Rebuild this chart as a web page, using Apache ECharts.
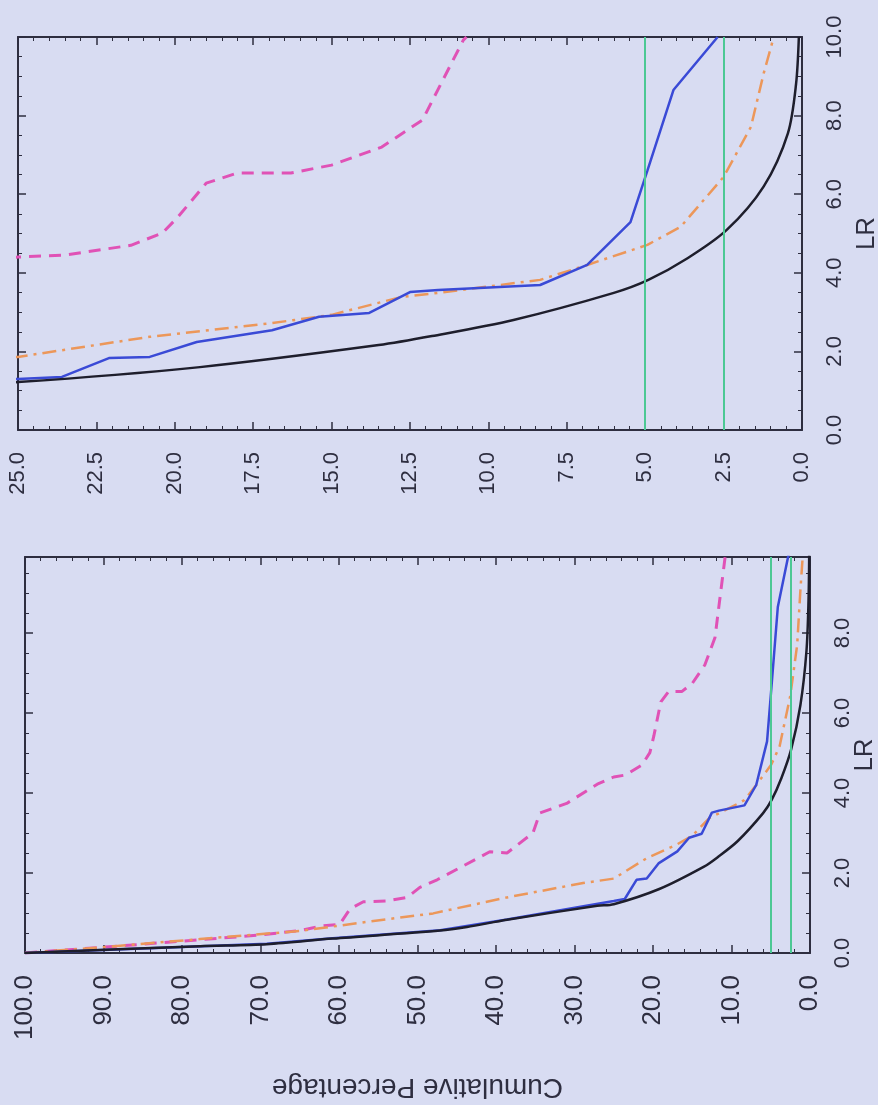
<!DOCTYPE html>
<html>
<head>
<meta charset="utf-8">
<script src="https://cdn.jsdelivr.net/npm/echarts@6/dist/echarts.min.js"></script>
<style>
  html, body { margin: 0; padding: 0; background: #d8dcf2; }
  #chart { width: 878px; height: 1105px; }
</style>
</head>
<body>
<div id="chart"></div>
<script>
// cumulative percentage against LR, the page is shown turned a quarter turn
// points are [cumulative %, LR]
var blackCurve = [[100, 0], [77.7, 0.17], [69.2, 0.22], [60.8, 0.36], [47.1, 0.56], [43.7, 0.65], [38.6, 0.83], [27.1, 1.18],
  [25, 1.22], [19.2, 1.6], [13.5, 2.16], [11.8, 2.39], [9.2, 2.8], [6.0, 3.49], [4.9, 3.82], [3.65, 4.37],
  [2.4, 5.09], [1.22, 6.2], [0.45, 7.55], [0.19, 8.8], [0.1, 10]];
var blueCurve = [[100, 0], [69.2, 0.23], [60.8, 0.37], [47.1, 0.57], [38.6, 0.84], [25, 1.3], [23.6, 1.35],
  [22.1, 1.83], [20.8, 1.86], [19.3, 2.24], [16.9, 2.54], [15.4, 2.88], [13.8, 2.98], [12.5, 3.51], [11.6, 3.56],
  [8.35, 3.69], [6.85, 4.2], [5.47, 5.29], [4.93, 6.6], [4.1, 8.65], [2.69, 10]];
var orangeCurve = [[100, 0], [90.4, 0.14], [77.7, 0.35], [65, 0.55], [56.4, 0.78], [48, 0.99], [38.6, 1.39],
  [28.9, 1.75], [25, 1.86], [20.8, 2.37], [16.9, 2.72], [15, 2.93], [12.8, 3.38], [11.6, 3.49], [8.35, 3.82],
  [6.85, 4.2], [4.93, 4.71], [3.87, 5.17], [2.5, 6.44], [1.63, 7.71], [1.22, 9.08], [0.9, 10]];
var magentaCurve = [[100, 0], [85, 0.22], [70, 0.45], [65, 0.56], [62.4, 0.67], [59.9, 0.72], [58.6, 1.1],
  [56.9, 1.28], [53.9, 1.3], [51.3, 1.39], [49.7, 1.64], [47.5, 1.83], [40.8, 2.53], [38.6, 2.5], [35.3, 3.0],
  [34.4, 3.5], [31, 3.74], [27.1, 4.22], [25, 4.4], [23.5, 4.45], [21.4, 4.7], [20.4, 5.01], [19.9, 5.42],
  [19, 6.28], [18, 6.54], [16.3, 6.54], [15, 6.74], [13.4, 7.2], [12.1, 7.89], [11.5, 8.83], [10.8, 9.92], [10.7, 10]];
var cutoffs = [5, 2.5];

var pctZoom = [0, 25];
var pctFull = [0, 100];
var lrZoom = [0, 10];
var lrFull = [0, 9.9];

var ink = "#2e2e40";
var font = "Liberation Sans, Arial, sans-serif";

var chart = echarts.init(document.getElementById("chart"));

function pctAxis(grid, position, range, step, size, withLabels, name) {
  return {
    gridIndex: grid,
    type: "value",
    position: position,
    inverse: true,
    min: range[0],
    max: range[1],
    interval: step,
    axisLine: {show: true, onZero: false, lineStyle: {color: ink, width: 2}},
    axisTick: {show: true, inside: true, length: 8, lineStyle: {color: ink, width: 1.5}},
    minorTick: {show: true, splitNumber: 5, length: 4, lineStyle: {color: ink, width: 1}},
    splitLine: {show: false},
    axisLabel: {
      show: withLabels,
      rotate: 90,
      margin: 22,
      color: ink,
      fontSize: size,
      fontFamily: font,
      formatter: function (v) { return v.toFixed(1); },
    },
    name: name || "",
    nameLocation: "middle",
    nameRotate: 180,
    nameGap: 120,
    nameTextStyle: {color: ink, fontSize: 28, fontFamily: font},
  };
}

function lrAxis(grid, position, range, withLabels, gap) {
  return {
    gridIndex: grid,
    type: "value",
    position: position,
    min: range[0],
    max: range[1],
    interval: 2,
    axisLine: {show: true, onZero: false, lineStyle: {color: ink, width: 2}},
    axisTick: {show: true, inside: true, length: 8, lineStyle: {color: ink, width: 1.5}},
    minorTick: {show: true, splitNumber: 4, length: 4, lineStyle: {color: ink, width: 1}},
    splitLine: {show: false},
    axisLabel: {
      show: withLabels,
      rotate: 90,
      margin: 22,
      color: ink,
      fontSize: 22,
      fontFamily: font,
      formatter: function (v) { return v % 2 === 0 ? v.toFixed(1) : ""; },
    },
    name: withLabels ? "LR" : "",
    nameLocation: "middle",
    nameRotate: 90,
    nameGap: gap || 48,
    nameMoveOverlap: false,
    nameTextStyle: {color: ink, fontSize: 26, fontFamily: font},
  };
}

function curves(grid) {
  var base = {type: "line", xAxisIndex: grid * 2, yAxisIndex: grid * 2, symbol: "none", clip: true, silent: true};
  return [
    Object.assign({}, base, {
      name: "pink", data: magentaCurve,
      lineStyle: {color: "#e052b6", width: 3, type: [12, 8]},
    }),
    Object.assign({}, base, {
      name: "orange", data: orangeCurve,
      lineStyle: {color: "#ec975a", width: 2.5, type: [14, 6, 3, 6]},
    }),
    Object.assign({}, base, {
      name: "blue", data: blueCurve,
      lineStyle: {color: "#3a4ad6", width: 2.5},
    }),
    Object.assign({}, base, {
      name: "black", data: blackCurve, smooth: 0.3,
      lineStyle: {color: "#1e1e2c", width: 2.5},
      markLine: {
        silent: true,
        symbol: ["none", "none"],
        label: {show: false},
        lineStyle: {color: "#4cc894", width: 2, type: "solid"},
        data: cutoffs.map(function (v) { return {xAxis: v}; }),
      },
    }),
  ];
}

chart.setOption({
  backgroundColor: "#d8dcf2",
  animation: false,
  grid: [
    {left: 18, top: 37, width: 784, height: 393, outerBoundsMode: "none"},
    {left: 25, top: 557, width: 785, height: 396, outerBoundsMode: "none"},
  ],
  xAxis: [
    pctAxis(0, "bottom", pctZoom, 2.5, 22, true),
    pctAxis(0, "top", pctZoom, 2.5, 22, false),
    pctAxis(1, "bottom", pctFull, 10, 26, true, "Cumulative Percentage"),
    pctAxis(1, "top", pctFull, 10, 26, false),
  ],
  yAxis: [
    lrAxis(0, "right", lrZoom, true, 52),
    lrAxis(0, "left", lrZoom, false),
    lrAxis(1, "right", lrFull, true, 42),
    lrAxis(1, "left", lrFull, false),
  ],
  series: curves(0).concat(curves(1)),
});
</script>
</body>
</html>
